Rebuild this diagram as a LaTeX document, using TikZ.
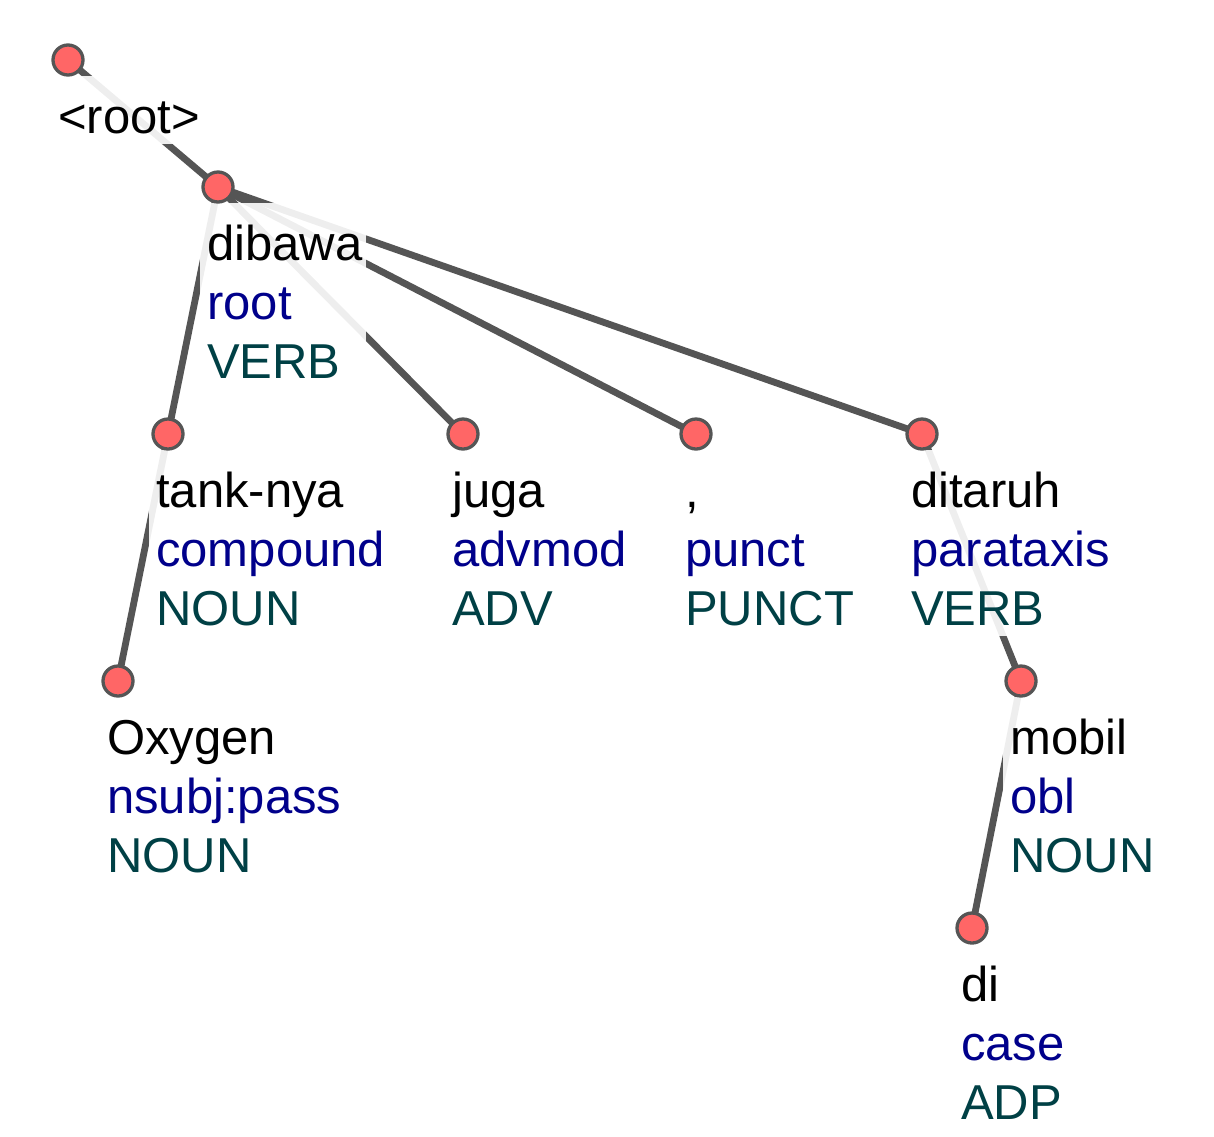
\documentclass[tikz,border=0pt]{standalone}
\usepackage{fontspec}
\setmainfont{Liberation Sans}
\usetikzlibrary{calc}
\definecolor{edgegray}{HTML}{555555}
\definecolor{nodered}{HTML}{FF6666}
\definecolor{relblue}{HTML}{00008B}
\definecolor{posteal}{HTML}{004045}
\pgfdeclarelayer{edgelayer}
\pgfdeclarelayer{boxlayer}
\pgfsetlayers{edgelayer,boxlayer,main}
\newcommand\tokthree[3]{\begin{tabular}[t]{@{}l@{}}#1\\\color{relblue}#2\\\color{posteal}#3\end{tabular}}
\newcommand\tokone[1]{\begin{tabular}[t]{@{}l@{}}#1\end{tabular}}
\tikzset{
  tokdot/.style={circle, draw=edgegray, fill=nodered, line width=3.3pt, minimum size=30pt, inner sep=0pt},
  deplink/.style={draw=edgegray, line width=6.8pt},
  toklabel/.style={anchor=base west, inner sep=0pt, font=\fontsize{49}{59}\selectfont, text=black},
  labelbg/.style={fill=white, fill opacity=0.9, draw=none},
}
\newcommand\labelbox[1]{\fill[labelbg] ($(#1.north west)+(-7,-15.7)$) rectangle ($(#1.south east)+(3,-6.7)$);}
\begin{document}
\begin{tikzpicture}[x=1pt, y=-1pt]
\useasboundingbox (0,0) rectangle (1214,1136);
% token dots
\node[tokdot] (root) at (68,60) {};
\node[tokdot] (dibawa) at (218,187) {};
\node[tokdot] (tank) at (168,434) {};
\node[tokdot] (juga) at (463,434) {};
\node[tokdot] (comma) at (696,434) {};
\node[tokdot] (ditaruh) at (922,434) {};
\node[tokdot] (oxygen) at (118,681) {};
\node[tokdot] (mobil) at (1021,681) {};
\node[tokdot] (di) at (972,928) {};
% labels
\node[toklabel] (Lroot) at ($(root)+(-10,73)$) {\tokone{<root>}};
\node[toklabel] (Ldibawa) at ($(dibawa)+(-11,73)$) {\tokthree{dibawa}{root}{VERB}};
\node[toklabel] (Ltank) at ($(tank)+(-12,73)$) {\tokthree{tank-nya}{compound}{NOUN}};
\node[toklabel] (Ljuga) at ($(juga)+(-11,73)$) {\tokthree{juga}{advmod}{ADV}};
\node[toklabel] (Lcomma) at ($(comma)+(-11,73)$) {\tokthree{,}{punct}{PUNCT}};
\node[toklabel] (Lditaruh) at ($(ditaruh)+(-11,73)$) {\tokthree{ditaruh}{parataxis}{VERB}};
\node[toklabel] (Loxygen) at ($(oxygen)+(-11,73)$) {\tokthree{Oxygen}{nsubj:pass}{NOUN}};
\node[toklabel] (Lmobil) at ($(mobil)+(-11,73)$) {\tokthree{mobil}{obl}{NOUN}};
\node[toklabel] (Ldi) at ($(di)+(-11,73)$) {\tokthree{di}{case}{ADP}};
% label backgrounds
\begin{pgfonlayer}{boxlayer}
\labelbox{Lroot}
\labelbox{Ldibawa}
\labelbox{Ltank}
\labelbox{Ljuga}
\labelbox{Lcomma}
\labelbox{Lditaruh}
\labelbox{Loxygen}
\labelbox{Lmobil}
\labelbox{Ldi}
\end{pgfonlayer}
% dependency links
\begin{pgfonlayer}{edgelayer}
\draw[deplink] (root.center) -- (dibawa.center);
\draw[deplink] (dibawa.center) -- (tank.center);
\draw[deplink] (dibawa.center) -- (juga.center);
\draw[deplink] (dibawa.center) -- (comma.center);
\draw[deplink] (dibawa.center) -- (ditaruh.center);
\draw[deplink] (tank.center) -- (oxygen.center);
\draw[deplink] (ditaruh.center) -- (mobil.center);
\draw[deplink] (mobil.center) -- (di.center);
\end{pgfonlayer}
\end{tikzpicture}
\end{document}
